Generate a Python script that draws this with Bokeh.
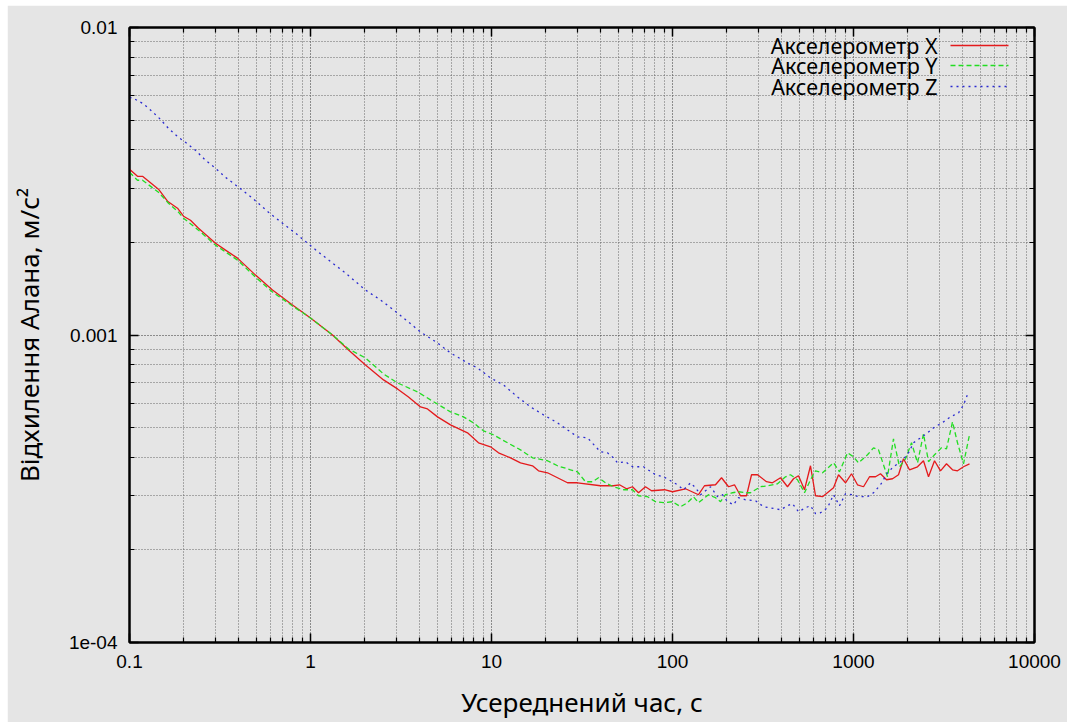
from bokeh.plotting import figure
from bokeh.models import LogAxis, FixedTicker, Label, Arrow, CustomJSTickFormatter
from bokeh.embed import file_html
from bokeh.resources import INLINE

# ---------------- data ----------------
series_names = ["Акселерометр X", "Акселерометр Y", "Акселерометр Z"]

red_x = [0.1, 0.1107, 0.118, 0.1446, 0.1622, 0.1842, 0.1988, 0.2173, 0.2406, 0.2987,
         0.3392, 0.3951, 0.497, 0.6166, 0.7955, 1.0, 1.323, 1.622, 2.013, 2.532,
         3.025, 3.478, 4.053, 4.43, 5.032, 5.936, 7.37, 8.477, 9.874, 10.93,
         12.74, 14.46, 16.85, 18.18, 20.39, 26.3, 29.87, 40.0, 47.2, 50.95,
         55.7, 60.1, 64.9, 70.9, 76.6, 90.3, 100, 118, 139.2, 150.2,
         172.8, 186.6, 204, 220, 237.5, 256.4, 273.3, 294.9, 330.6, 356.8,
         395.2, 431.9, 466.2, 496.8, 536.2, 578.6, 616.9, 674.3, 775.6, 826.5,
         903.3, 975, 1052, 1136, 1226, 1323, 1410, 1522, 1643, 1773,
         1889, 2039, 2258, 2436, 2597, 2803, 3025, 3265, 3524, 3755,
         4053, 4374]
red_y = [0.00346, 0.003282, 0.003282, 0.002979, 0.002723, 0.002584, 0.002434, 0.002362, 0.002225, 0.001989,
         0.001888, 0.001778, 0.001566, 0.0014, 0.001252, 0.001136, 0.001, 0.000894, 0.0007992, 0.0007144,
         0.0006679, 0.000629, 0.0005836, 0.000575, 0.0005417, 0.0005102, 0.0004806, 0.0004461, 0.0004329, 0.0004139,
         0.0003987, 0.000384, 0.0003756, 0.0003617, 0.0003564, 0.0003307, 0.0003307, 0.0003234, 0.0003234, 0.0003258,
         0.0003162, 0.000321, 0.0003069, 0.000321, 0.0003115, 0.0003139, 0.0003092, 0.0003162, 0.0003024, 0.0003234,
         0.0003258, 0.0003434, 0.000321, 0.0003258, 0.0003001, 0.0003001, 0.0003512, 0.0003512, 0.0003333, 0.0003307,
         0.0003434, 0.000321, 0.0003408, 0.0003485, 0.0003139, 0.0003756, 0.0003001, 0.0002979, 0.0003186, 0.0003512,
         0.0003307, 0.0003538, 0.0003258, 0.000321, 0.0003459, 0.0003459, 0.0003538, 0.0003383, 0.0003408, 0.0003512,
         0.0003958, 0.0003645, 0.0003728, 0.00039, 0.0003459, 0.00039, 0.0003617, 0.0003812, 0.0003645, 0.0003617,
         0.0003728, 0.0003812]

green_x = [0.1, 0.1107, 0.118, 0.1446, 0.1642, 0.1865, 0.1988, 0.2406, 0.2987, 0.3951,
           0.497, 0.6166, 0.7955, 1.0, 1.323, 1.622, 2.013, 2.532, 3.025, 3.901,
           4.603, 5.936, 7.003, 7.955, 9.03, 10.26, 12.26, 14.46, 16.85, 20.39,
           23.16, 27.33, 29.87, 33.06, 36.14, 39.0, 42.65, 47.2, 53.6, 60.1,
           64.9, 72.8, 80.6, 89.2, 100, 110.7, 121.0, 130.6, 139.2, 158.1,
           172.8, 184.2, 196.3, 214.6, 231.5, 253.2, 269.8, 306.3, 334.9, 380.3,
           421.1, 448.8, 490.5, 536.2, 578.6, 616.9, 674.3, 775.6, 837.0, 926.7,
           1000, 1066, 1195, 1290, 1375, 1541, 1663, 1795, 1938, 2092,
           2258, 2436, 2597, 2803, 3063, 3265, 3524, 3755, 4053, 4374]
green_y = [0.003382, 0.003186, 0.003186, 0.002912, 0.002683, 0.002508, 0.002398, 0.002192, 0.00196, 0.001752,
           0.001543, 0.001379, 0.001243, 0.001136, 0.001, 0.0009006, 0.0008421, 0.0007471, 0.0006986, 0.0006532,
           0.0006152, 0.0005623, 0.0005417, 0.0005179, 0.0004879, 0.0004736, 0.0004461, 0.0004232, 0.0003987, 0.00039,
           0.0003756, 0.0003645, 0.000359, 0.0003333, 0.0003333, 0.0003434, 0.0003307, 0.000321, 0.0003139, 0.0003139,
           0.0003001, 0.0002979, 0.000287, 0.0002848, 0.000287, 0.0002764, 0.0002848, 0.0002979, 0.0002848, 0.0003024,
           0.0002957, 0.000287, 0.0003024, 0.0003069, 0.0003092, 0.0003069, 0.0003069, 0.000321, 0.0003234, 0.0003282,
           0.0003459, 0.0003512, 0.0003383, 0.0003069, 0.0003383, 0.0003617, 0.0003564, 0.000384, 0.000359, 0.0004139,
           0.0004017, 0.000384, 0.0004078, 0.0004297, 0.0004232, 0.0003459, 0.0004595, 0.0003728, 0.0003958, 0.0004461,
           0.000384, 0.000477, 0.0003871, 0.0004078, 0.0004297, 0.0004265, 0.0005218, 0.0004461, 0.0003812, 0.0004736]

blue_x = [0.1, 0.1052, 0.118, 0.1257, 0.1446, 0.1642, 0.1865, 0.2039, 0.2315, 0.263,
          0.2987, 0.3392, 0.4002, 0.4782, 0.5861, 0.7003, 0.8264, 0.9625, 1.107, 1.323,
          1.561, 2.013, 2.436, 3.025, 4.053, 5.032, 5.936, 7.37, 8.37, 9.874,
          11.65, 13.92, 16.43, 19.38, 23.16, 26.3, 29.87, 33.92, 40.0, 43.74,
          47.2, 49.67, 55.0, 60.1, 69.15, 80.6, 89.2, 106.6, 115.1, 125.8,
          134.1, 142.8, 162.2, 177.3, 188.9, 201.4, 217.3, 231.5, 253.2, 287.5,
          318.4, 395.2, 431.9, 460.3, 496.8, 543.1, 578.6, 616.9, 657.3, 718.6,
          775.6, 837.0, 903.3, 987.4, 1066, 1195, 1290, 1410, 1541, 1663,
          1819, 1988, 2146, 2346, 2564, 2767, 3142, 3435, 3803, 4053,
          4319]
blue_y = [0.005926, 0.005882, 0.005666, 0.005499, 0.005103, 0.004699, 0.004394, 0.004232, 0.003987, 0.0037,
          0.003485, 0.003258, 0.003024, 0.002785, 0.002508, 0.00231, 0.002144, 0.001989, 0.00186, 0.001714,
          0.00159, 0.0014, 0.0013, 0.001179, 0.001023, 0.0009419, 0.0008742, 0.0008112, 0.0007815, 0.0007251,
          0.0006879, 0.000629, 0.0005836, 0.0005499, 0.0005179, 0.0004914, 0.0004664, 0.000463, 0.0004169, 0.0004139,
          0.0003987, 0.000384, 0.0003871, 0.0003728, 0.0003728, 0.0003512, 0.0003459, 0.0003258, 0.0003139, 0.0003307,
          0.0003186, 0.0003024, 0.000321, 0.0002979, 0.0003024, 0.000287, 0.0002806, 0.0002957, 0.0002912, 0.0002891,
          0.0002764, 0.0002703, 0.0002785, 0.0002827, 0.0002662, 0.0002744, 0.0002785, 0.0002623, 0.0002642, 0.0002744,
          0.0003024, 0.0002785, 0.0003047, 0.0003024, 0.0002979, 0.0002979, 0.0003069, 0.0003258, 0.0003564, 0.0003728,
          0.0003871, 0.0004078, 0.0004461, 0.000463, 0.0004806, 0.0004989, 0.0005218, 0.0005417, 0.0005582, 0.0005925,
          0.0006532]

x_tick_values = [0.1, 1, 10, 100, 1000, 10000]
x_tick_labels = ["0.1", "1", "10", "100", "1000", "10000"]
y_tick_values = [1e-4, 1e-3, 1e-2]
y_tick_labels = ["1e-04", "0.001", "0.01"]

x_title = "Усереднений час, с"
y_title = "Відхилення Алана, м/с²"

# ---------------- styling ----------------
BG = "#e5e5e5"
COLORS = ["#e41a1c", "#22dd22", "#2a2ad0"]
DASHES = ["solid", "5 3", "2 4"]
TICK_FONT = "Liberation Sans"
TEXT_FONT = "Noto Sans"

x_minor = [m * d for d in x_tick_values[:-1] for m in range(2, 10)]
y_minor = [m * d for d in y_tick_values[:-1] for m in range(2, 10)]
xt = FixedTicker(ticks=x_tick_values, minor_ticks=x_minor)
yt = FixedTicker(ticks=y_tick_values, minor_ticks=y_minor)

x_label_js = "const m = {%s}; return m[index];" % ", ".join(
    "%d: '%s'" % (i, s) for i, s in enumerate(x_tick_labels))
y_label_js = "const m = {%s}; return m[index];" % ", ".join(
    "%d: '%s'" % (i, s) for i, s in enumerate(y_tick_labels))

p = figure(width=1060, height=717, x_axis_type="log", y_axis_type="log",
           x_range=(0.1, 10000), y_range=(1e-4, 1e-2),
           output_backend="svg", toolbar_location=None,
           min_border_left=122, min_border_right=33, min_border_top=22, min_border_bottom=79,
           background_fill_color=BG, border_fill_color=BG,
           x_axis_label=x_title, y_axis_label=y_title)
p.margin = (5, 0, 0, 7)

p.outline_line_color = "black"
p.outline_line_width = 2

def style_axis(ax, show_labels):
    ax.axis_line_color = "black"
    ax.axis_line_width = 2
    ax.major_tick_line_color = "black"
    ax.major_tick_line_width = 1.5
    ax.minor_tick_line_color = "black"
    ax.minor_tick_line_width = 1.2
    ax.major_tick_in = 9
    ax.major_tick_out = 0
    ax.minor_tick_in = 5
    ax.minor_tick_out = 0
    if show_labels:
        ax.major_label_text_font = TICK_FONT
        ax.major_label_text_font_size = "19px"
        ax.major_label_text_color = "black"
        ax.major_label_standoff = 12
        ax.axis_label_text_font = TEXT_FONT
        ax.axis_label_text_font_size = "26px"
        ax.axis_label_text_font_style = "normal"
        ax.axis_label_text_color = "black"
    else:
        ax.formatter = CustomJSTickFormatter(code="return '';")
        ax.major_label_text_font_size = "1px"
        ax.major_label_standoff = 0

xa = p.xaxis[0]
ya = p.yaxis[0]
xa.ticker = xt
ya.ticker = yt
xa.formatter = CustomJSTickFormatter(code=x_label_js)
ya.formatter = CustomJSTickFormatter(code=y_label_js)
style_axis(xa, True)
style_axis(ya, True)
xa.axis_label_standoff = 13
ya.axis_label_standoff = 19

top = LogAxis(ticker=xt)
right = LogAxis(ticker=yt)
style_axis(top, False)
style_axis(right, False)
p.add_layout(top, "above")
p.add_layout(right, "right")

for g, t in ((p.xgrid[0], xt), (p.ygrid[0], yt)):
    g.ticker = t
    g.grid_line_color = "#333333"
    g.grid_line_dash = "1 2"
    g.grid_line_width = 1
    g.minor_grid_line_color = "#666666"
    g.minor_grid_line_dash = "1 2"
    g.minor_grid_line_width = 1

for xs, ys, c, d in ((red_x, red_y, COLORS[0], DASHES[0]),
                     (green_x, green_y, COLORS[1], DASHES[1]),
                     (blue_x, blue_y, COLORS[2], DASHES[2])):
    p.line(xs, ys, line_color=c, line_width=1.3, line_dash=d)

# gnuplot-style key: text, then the line sample (positions in screen px of the frame)
key_text_right = 808
key_line_x0, key_line_x1 = 821, 879
key_rows = [597, 577, 556]
for name, c, d, ky in zip(series_names, COLORS, DASHES, key_rows):
    p.add_layout(Label(x=key_text_right, y=ky, x_units="screen", y_units="screen",
                       text=name, text_align="right", text_baseline="middle",
                       text_font=TEXT_FONT, text_font_size="21.5px", text_color="black"))
    p.add_layout(Arrow(end=None, x_start=key_line_x0, y_start=ky, x_end=key_line_x1, y_end=ky,
                       start_units="screen", end_units="screen",
                       line_color=c, line_width=1.3, line_dash=d))

open("out.html", "w").write(file_html(p, INLINE))
